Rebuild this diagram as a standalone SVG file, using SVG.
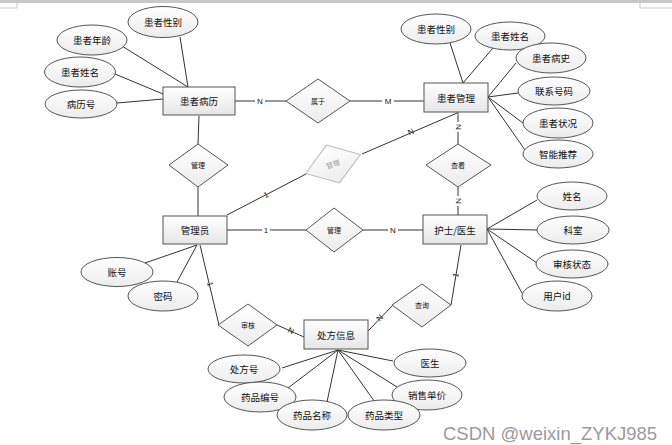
<svg xmlns="http://www.w3.org/2000/svg" width="672" height="445" viewBox="0 0 672 445">
<defs>
<linearGradient id="gR" x1="0" y1="0" x2="0" y2="1"><stop offset="0" stop-color="#ffffff"/><stop offset="1" stop-color="#e6e6e6"/></linearGradient>
<linearGradient id="gE" x1="0" y1="0" x2="0" y2="1"><stop offset="0" stop-color="#ffffff"/><stop offset="1" stop-color="#ececec"/></linearGradient>
<style>
text{font-family:"Noto Sans CJK SC","Liberation Sans",sans-serif;fill:#111;text-anchor:middle;dominant-baseline:central}
.ent rect{fill:url(#gR);stroke:#555;stroke-width:1}
.ent text{font-size:9.5px}
.att ellipse{fill:url(#gE);stroke:#555;stroke-width:1}
.att text{font-size:9.5px}
.rel polygon{fill:url(#gE);stroke:#555;stroke-width:1}
.rel text{font-size:7px}
.faint polygon{stroke:#bbb}
.faint text{fill:#999}
#connectors line,#connectors polyline{stroke:#333;stroke-width:1;fill:none}
.lbl{font-family:"Liberation Sans",sans-serif;font-size:8px;fill:#222}
.wm{font-family:"Liberation Sans",sans-serif;font-size:18.5px;fill:#9a9a9a;text-anchor:start}
</style>
</defs>
<rect width="672" height="445" fill="#ffffff"/>
<g id="page-frame" stroke="#c8c8c8" fill="none">
<line x1="0" y1="1.5" x2="672" y2="1.5" stroke-width="3"/>
<polyline points="17,0 17,8 0,8" stroke-width="1"/>
<polyline points="640,0 640,8 672,8" stroke-width="1"/>
</g>
<g id="connectors">
<line x1="122" y1="46" x2="188" y2="87"/>
<line x1="180" y1="37" x2="188" y2="87"/>
<line x1="115" y1="74" x2="163" y2="94"/>
<line x1="117" y1="103" x2="163" y2="99"/>
<line x1="450" y1="43" x2="463" y2="83"/>
<line x1="493" y1="48" x2="463" y2="83"/>
<line x1="488" y1="97" x2="516" y2="63"/>
<line x1="488" y1="97" x2="518" y2="93"/>
<line x1="488" y1="97" x2="523" y2="123"/>
<line x1="488" y1="97" x2="525" y2="150"/>
<line x1="487" y1="229" x2="537" y2="200"/>
<line x1="487" y1="229" x2="537" y2="230"/>
<line x1="487" y1="229" x2="537" y2="263"/>
<line x1="487" y1="229" x2="522" y2="293"/>
<line x1="197" y1="245" x2="145" y2="263"/>
<line x1="197" y1="245" x2="177" y2="282"/>
<line x1="338" y1="350" x2="393" y2="361"/>
<line x1="338" y1="350" x2="282" y2="368"/>
<line x1="338" y1="350" x2="288" y2="388"/>
<line x1="338" y1="350" x2="327" y2="402"/>
<line x1="338" y1="350" x2="377" y2="405"/>
<line x1="338" y1="350" x2="397" y2="387"/>
<line x1="235" y1="101" x2="286" y2="101"/>
<line x1="350" y1="101" x2="424" y2="101"/>
<line x1="199" y1="116" x2="198" y2="144"/>
<line x1="198" y1="187" x2="198" y2="216"/>
<line x1="227" y1="215" x2="306" y2="174"/>
<line x1="362" y1="154" x2="457" y2="113"/>
<line x1="458" y1="112" x2="458" y2="144"/>
<line x1="458" y1="187" x2="458" y2="215"/>
<line x1="227" y1="230" x2="306" y2="230"/>
<line x1="363" y1="230" x2="423" y2="230"/>
<line x1="461" y1="245" x2="451" y2="305"/>
<line x1="393" y1="305" x2="368" y2="331"/>
<line x1="277" y1="325" x2="304" y2="337"/>
<line x1="200" y1="245" x2="219" y2="325"/>
</g>
<g id="cardinalities">
<rect x="255" y="96" width="10" height="10" fill="#fff"/><text class="lbl" x="260" y="101">N</text>
<rect x="382" y="96" width="12" height="10" fill="#fff"/><text class="lbl" x="388" y="101">M</text>
<text class="lbl" x="266" y="195" transform="rotate(-27 266 195)">1</text>
<text class="lbl" x="411" y="132" transform="rotate(-23 411 132)">N</text>
<rect x="454" y="122" width="8" height="10" fill="#fff"/><text class="lbl" x="458" y="127" transform="rotate(90 458 127)">N</text>
<rect x="454" y="196" width="8" height="10" fill="#fff"/><text class="lbl" x="458" y="201" transform="rotate(90 458 201)">N</text>
<rect x="262" y="225" width="8" height="10" fill="#fff"/><text class="lbl" x="266" y="230">1</text>
<rect x="388" y="225" width="10" height="10" fill="#fff"/><text class="lbl" x="393" y="230">N</text>
<text class="lbl" x="456" y="275" transform="rotate(-80 456 275)" font-size="5">1</text>
<text class="lbl" x="380" y="318" transform="rotate(-47 380 318)" font-size="5">N</text>
<text class="lbl" x="291" y="331" transform="rotate(24 291 331)" font-size="5">N</text>
<text class="lbl" x="210" y="284" transform="rotate(76 210 284)" font-size="5">1</text>
</g>
<g id="e-patient-record" class="ent"><rect x="163" y="87" width="72" height="28"/><text x="199" y="101">患者病历</text></g>
<g id="e-patient-mgmt" class="ent"><rect x="424" y="83" width="64" height="29"/><text x="456" y="97.5">患者管理</text></g>
<g id="e-admin" class="ent"><rect x="163" y="216" width="64" height="28"/><text x="195" y="230">管理员</text></g>
<g id="e-nurse" class="ent"><rect x="423" y="215" width="64" height="29"/><text x="455" y="229.5">护士/医生</text></g>
<g id="e-prescription" class="ent"><rect x="304" y="320" width="64" height="29"/><text x="336" y="334.5">处方信息</text></g>
<g id="r-belong" class="rel"><polygon points="286,101 318,79 350,101 318,123"/><text x="318" y="101">属于</text></g>
<g id="r-manage1" class="rel"><polygon points="169,165 198,144 228,165 198,187"/><text x="198" y="165">管理</text></g>
<g id="r-manage2" class="rel faint"><g transform="rotate(-19 333 164)"><polygon points="304,164 333,144 362,164 333,184"/><text x="333" y="164">管理</text></g></g>
<g id="r-manage3" class="rel"><polygon points="306,230 334,208 363,230 334,252"/><text x="334" y="230">管理</text></g>
<g id="r-view" class="rel"><polygon points="426,165 458,144 491,165 458,187"/><text x="458" y="165">查看</text></g>
<g id="r-audit" class="rel"><polygon points="218,325 248,304 277,325 248,346"/><text x="248" y="325">审核</text></g>
<g id="r-query" class="rel"><polygon points="392,305 422,284 451,305 422,327"/><text x="422" y="305">查询</text></g>
<g id="a-pr-gender" class="att"><ellipse cx="163" cy="22" rx="35" ry="15.5"/><text x="163" y="22">患者性别</text></g>
<g id="a-pr-age" class="att"><ellipse cx="92" cy="40" rx="35" ry="15"/><text x="92" y="40">患者年龄</text></g>
<g id="a-pr-name" class="att"><ellipse cx="80" cy="72" rx="35.5" ry="15"/><text x="80" y="72">患者姓名</text></g>
<g id="a-pr-no" class="att"><ellipse cx="81" cy="104" rx="36" ry="14"/><text x="81" y="104">病历号</text></g>
<g id="a-pm-gender" class="att"><ellipse cx="436" cy="29" rx="35" ry="15"/><text x="436" y="29">患者性别</text></g>
<g id="a-pm-name" class="att"><ellipse cx="510" cy="36" rx="35" ry="14"/><text x="510" y="36">患者姓名</text></g>
<g id="a-pm-history" class="att"><ellipse cx="551" cy="58" rx="35" ry="15"/><text x="551" y="58">患者病史</text></g>
<g id="a-pm-phone" class="att"><ellipse cx="554" cy="91" rx="36" ry="14"/><text x="554" y="91">联系号码</text></g>
<g id="a-pm-status" class="att"><ellipse cx="558" cy="123" rx="35" ry="15"/><text x="558" y="123">患者状况</text></g>
<g id="a-pm-recommend" class="att"><ellipse cx="558" cy="154" rx="35" ry="14"/><text x="558" y="154">智能推荐</text></g>
<g id="a-n-name" class="att"><ellipse cx="572" cy="196" rx="35" ry="14"/><text x="572" y="196">姓名</text></g>
<g id="a-n-dept" class="att"><ellipse cx="573" cy="230" rx="36" ry="14"/><text x="573" y="230">科室</text></g>
<g id="a-n-audit" class="att"><ellipse cx="572" cy="264" rx="36" ry="14"/><text x="572" y="264">审核状态</text></g>
<g id="a-n-uid" class="att"><ellipse cx="557" cy="296" rx="35" ry="15"/><text x="557" y="296">用户id</text></g>
<g id="a-ad-account" class="att"><ellipse cx="117" cy="272" rx="36" ry="14.5"/><text x="117" y="272">账号</text></g>
<g id="a-ad-pwd" class="att"><ellipse cx="163" cy="296" rx="35" ry="15"/><text x="163" y="296">密码</text></g>
<g id="a-p-doctor" class="att"><ellipse cx="430" cy="363" rx="36" ry="14"/><text x="430" y="363">医生</text></g>
<g id="a-p-no" class="att"><ellipse cx="244" cy="369" rx="36" ry="14"/><text x="244" y="369">处方号</text></g>
<g id="a-p-drugno" class="att"><ellipse cx="260" cy="397" rx="36" ry="15"/><text x="260" y="397">药品编号</text></g>
<g id="a-p-price" class="att"><ellipse cx="427" cy="395" rx="35" ry="15"/><text x="427" y="395">销售单价</text></g>
<g id="a-p-drugname" class="att"><ellipse cx="312" cy="415" rx="35" ry="15"/><text x="312" y="415">药品名称</text></g>
<g id="a-p-drugtype" class="att"><ellipse cx="384" cy="415" rx="36" ry="15"/><text x="384" y="415">药品类型</text></g>
<text class="wm" x="443" y="433" dominant-baseline="auto">CSDN @weixin_ZYKJ985</text>
</svg>
